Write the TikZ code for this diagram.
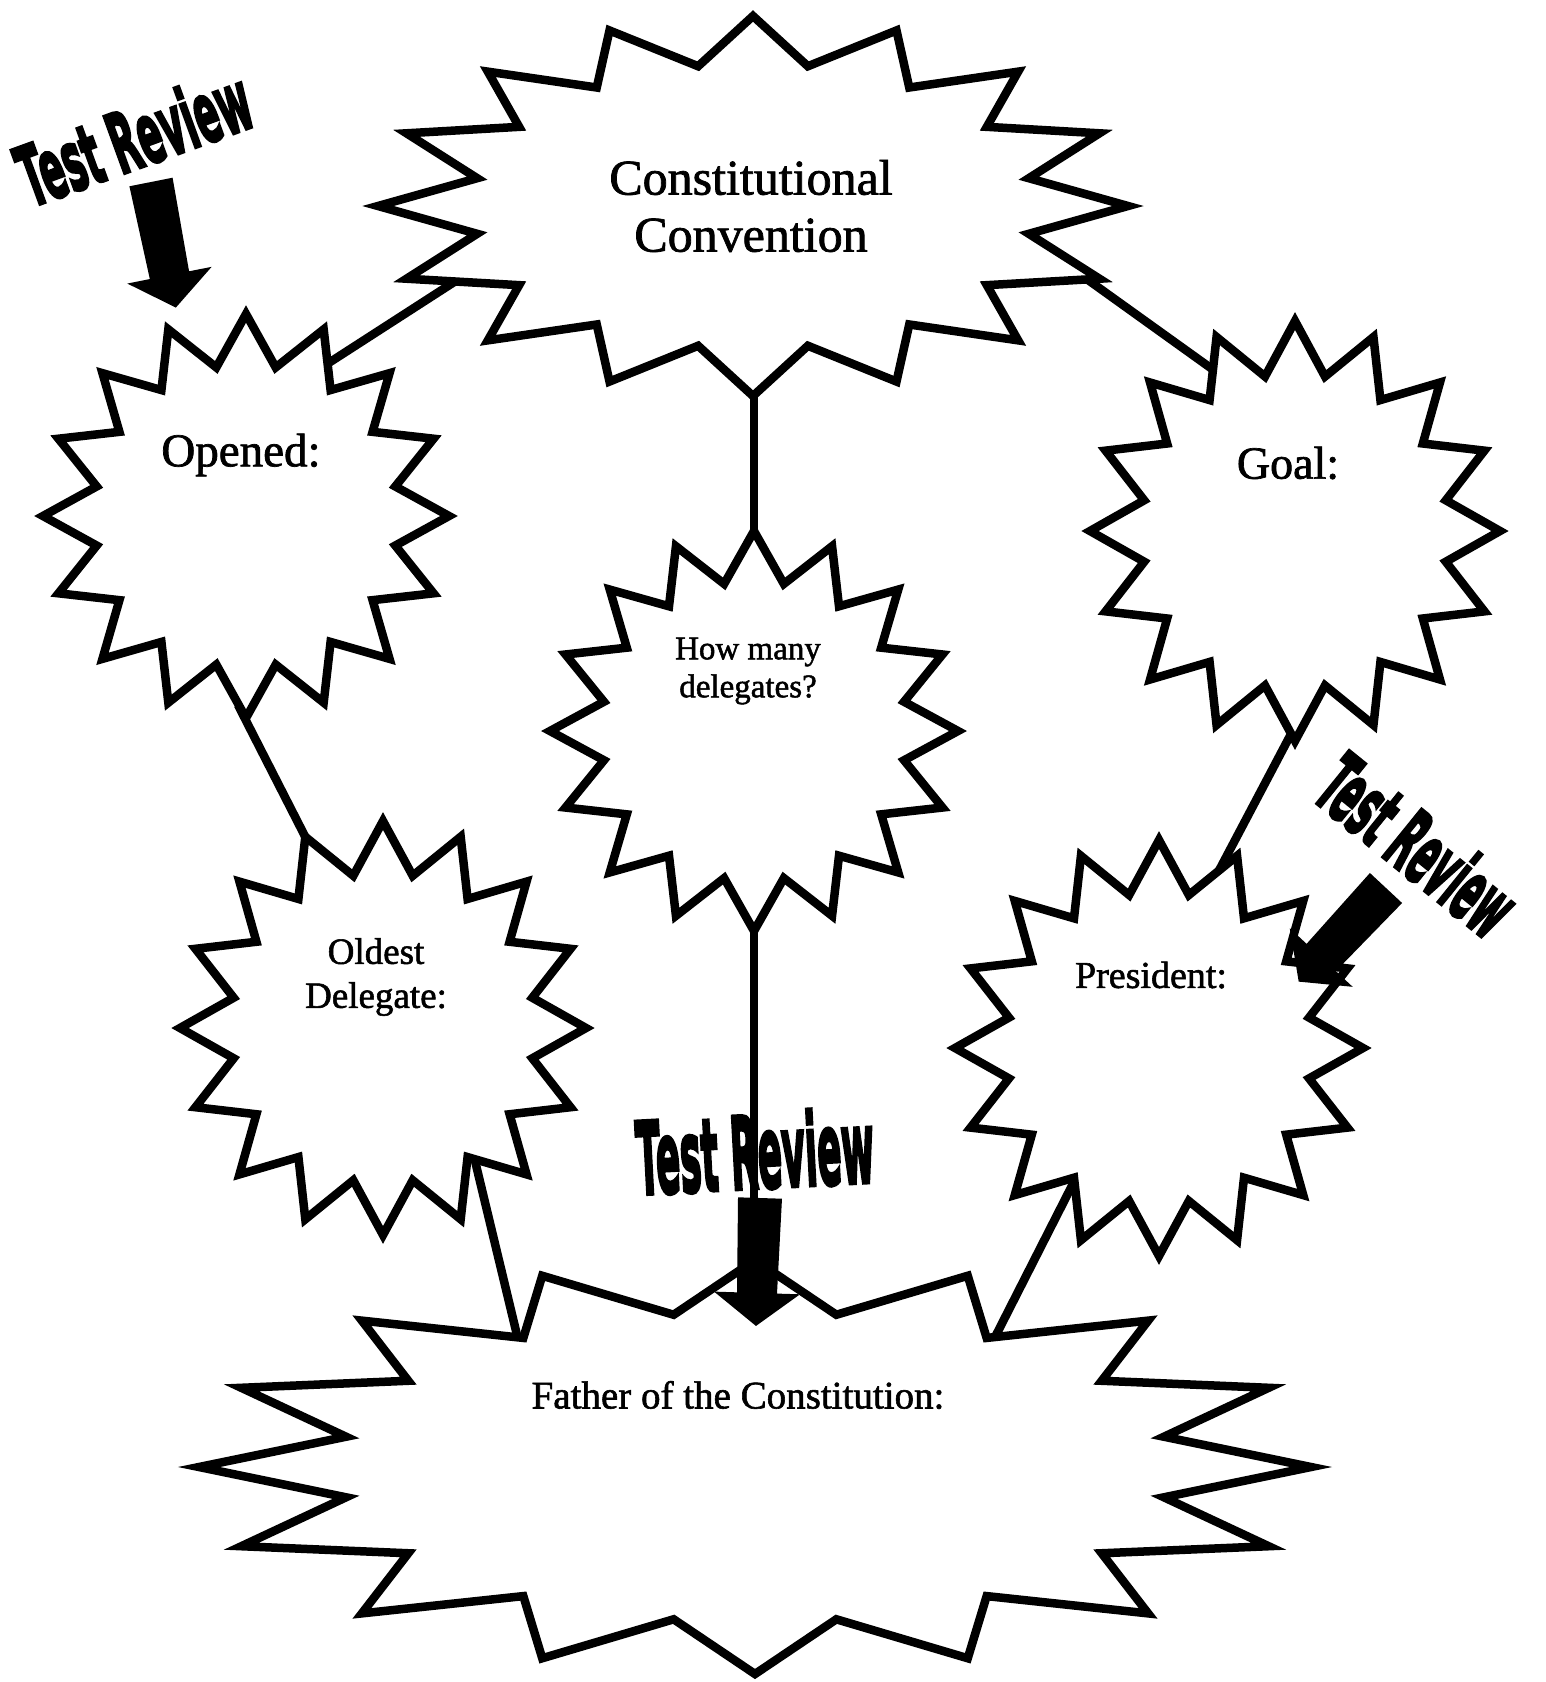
\documentclass[tikz,border=0pt]{standalone}
\usepackage{fontspec}
\usepackage{graphicx}
\setmainfont{Liberation Serif}[FakeBold=1.5]
\newfontfamily\trfont{DejaVu Sans}[BoldFeatures={FakeBold=4}]
% 16-point starburst: cx, cy, rx, ry (image pixel coordinates, y downwards)
\newcommand{\burst}[4]{%
  \draw[burst] ({#1},{#2-#4})
    \foreach \k in {1,...,31}{
      -- ({#1+(1-0.25*mod(\k,2))*#3*cos(90-\k*11.25)},{#2-(1-0.25*mod(\k,2))*#4*sin(90-\k*11.25)})
    } -- cycle;}
% block arrow: x, y of top middle, rotation
\newcommand{\tarrow}[3]{%
  \begin{scope}[shift={(#1,#2)},rotate=#3]
    \fill[blockarrow] (-22,0) -- (22,0) -- (20,95) -- (43,95) -- (0,128) -- (-43,95) -- (-20,95) -- cycle;
  \end{scope}}
\begin{document}
\begin{tikzpicture}[x=1pt,y=-1pt,
  burst/.style={draw=black,fill=white,line width=8.5pt,line join=miter},
  link/.style={draw=black,line width=8.5pt},
  lbl/.style={align=center,inner sep=0pt,text=black},
  trtext/.style={inner sep=0pt,text=black},
  blockarrow/.style={fill=black,draw=none}]
\useasboundingbox (0,0) rectangle (1546,1682);
\fill[white] (0,0) rectangle (1546,1682);

% connector end points
\coordinate (l1a) at (510,246);  \coordinate (l1b) at (310,375);
\coordinate (l2a) at (1010,224); \coordinate (l2b) at (1240,389);
\coordinate (l3a) at (754,380);  \coordinate (l3b) at (754,545);
\coordinate (l4a) at (238,705);  \coordinate (l4b) at (312,850);
\coordinate (l5a) at (1301,715); \coordinate (l5b) at (1214,880);
\coordinate (l6a) at (754,910);  \coordinate (l6b) at (754,1290);
\coordinate (l7a) at (470,1140); \coordinate (l7b) at (523,1360);
\coordinate (l8a) at (1085,1160); \coordinate (l8b) at (991,1345);

\draw[link] (l1a) -- (l1b);
\draw[link] (l2a) -- (l2b);
\draw[link] (l3a) -- (l3b);
\draw[link] (l4a) -- (l4b);
\draw[link] (l5a) -- (l5b);
\draw[link] (l6a) -- (l6b);
\draw[link] (l7a) -- (l7b);
\draw[link] (l8a) -- (l8b);

% starbursts
\burst{753}{206}{375}{190}
\burst{246}{516}{203}{202}
\burst{1295}{531}{205}{210}
\burst{754}{731}{204}{200}
\burst{383}{1028}{203}{207}
\burst{1159}{1048}{204}{208}
\burst{755}{1467}{556}{207}

% labels
\node[lbl,font=\fontsize{50pt}{57pt}\selectfont] (conv) at (751,206) {Constitutional\\Convention};
\node[lbl,font=\fontsize{47pt}{54pt}\selectfont] (opened) at (241,455) {Opened:};
\node[lbl,font=\fontsize{46pt}{54pt}\selectfont] (goal) at (1288,463) {Goal:};
\node[lbl,font=\fontsize{33pt}{38pt}\selectfont] (howmany) at (748,671) {How many\\delegates?};
\node[lbl,font=\fontsize{37pt}{44pt}\selectfont] (oldest) at (376,977) {Oldest\\Delegate:};
\node[lbl,font=\fontsize{38pt}{44pt}\selectfont] (president) at (1151,975) {President:};
\node[lbl,font=\fontsize{39pt}{46pt}\selectfont] (father) at (738,1395) {Father of the Constitution:};

% Test Review labels and arrows
\node[trtext,rotate=20] (tr1) at (134,137) {\resizebox{242pt}{63pt}{\trfont\bfseries Test Review}};
\node[trtext,rotate=-39] (tr2) at (1418,845) {\resizebox{228pt}{64pt}{\trfont\bfseries Test Review}};
\node[trtext,rotate=3] (tr3) at (755,1151) {\resizebox{238pt}{76pt}{\trfont\bfseries Test Review}};
\tarrow{151}{182}{11.2}
\tarrow{1386}{888}{-43}
\tarrow{760}{1198}{-1.8}
\end{tikzpicture}
\end{document}
